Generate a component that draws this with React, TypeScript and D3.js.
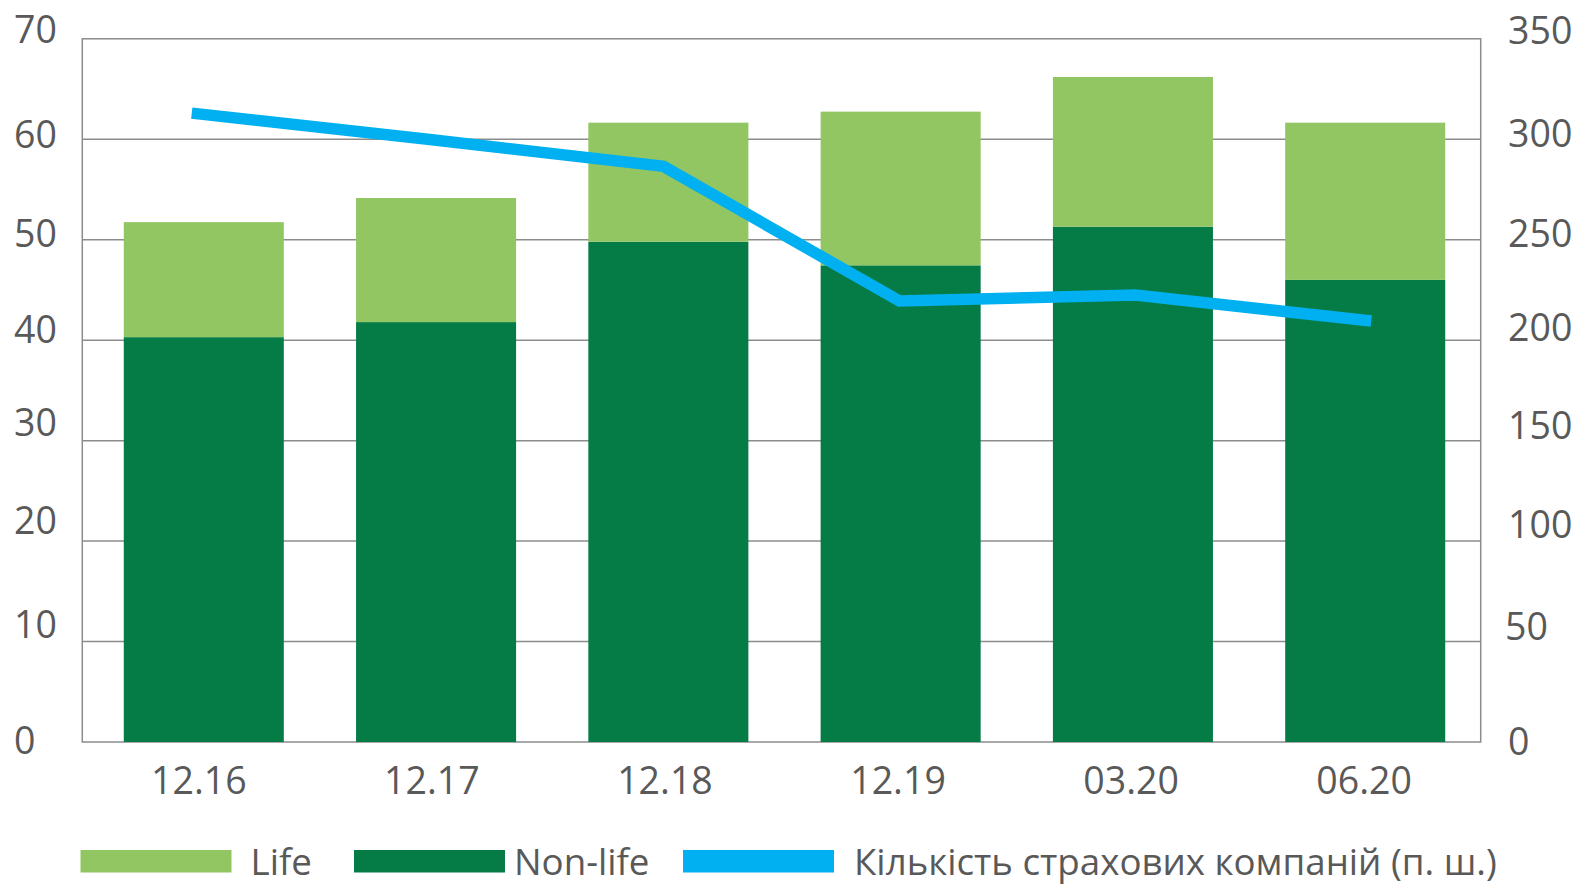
import React from "react";
import * as d3 from "d3";

const categories = ["12.16", "12.17", "12.18", "12.19", "03.20", "06.20"];
const nonLife = [40.3, 41.8, 49.8, 47.45, 51.3, 46.0];
const life = [11.45, 12.35, 11.85, 15.3, 14.9, 15.65];
const companies = [313, 300, 286.5, 219.5, 222.5, 209.5];
const leftTicks = [0, 10, 20, 30, 40, 50, 60, 70];
const rightTicks = [0, 50, 100, 150, 200, 250, 300, 350];
const legendLabels = ["Life", "Non-life", "Кількість страхових компаній (п. ш.)"];

// layout
const W = 1578;
const H = 885;
const plot = { left: 82.3, right: 1480.7, top: 38.8, bottom: 742 };
const leftLabelNudge = [-1, -17, -20, -18, -10.7, -6.4, -4.5, -9];
const rightLabelNudge = [0, -15, -16.5, -15, -12.4, -6.2, -5.5, -7.7];
const COL_LIFE = "#92C662";
const COL_NONLIFE = "#057C46";
const COL_LINE = "#00B0F0";
const COL_TEXT = "#595959";
const COL_GRID = "#8C8C8C";
const FONT = "'Open Sans', sans-serif";
const TICK_FS = 37.5;
const DIGIT_HALF = (0.714 * TICK_FS) / 2;

export default function App() {
  const x = d3
    .scaleBand<string>()
    .domain(categories)
    .range([88, 1481])
    .paddingInner(0.311)
    .paddingOuter(0.154);
  const xAxis = d3.scaleBand<string>().domain(categories).range([plot.left, plot.right]);
  const xl = d3
    .scalePoint<string>()
    .domain(categories)
    .range([plot.left, plot.right])
    .padding(0.464);
  const yL = d3.scaleLinear().domain([0, 70]).range([plot.bottom, plot.top]);
  const yR = d3.scaleLinear().domain([0, 350]).range([plot.bottom, plot.top]);

  const lineGen = d3
    .line<number>()
    .x((_, i) => xl(categories[i]) as number)
    .y((d) => yR(d));

  const legendItems = [
    { label: legendLabels[0], color: COL_LIFE, sx: 80.5, tx: 250.5 },
    { label: legendLabels[1], color: COL_NONLIFE, sx: 354, tx: 514 },
    { label: legendLabels[2], color: COL_LINE, sx: 683, tx: 854 },
  ];

  return (
    <svg
      width={W}
      height={H}
      style={{ position: "absolute", left: 0, top: 0, background: "#ffffff" }}
      fontFamily={FONT}
    >
      <rect x={0} y={0} width={W} height={H} fill="#ffffff" />
      {/* gridlines */}
      {leftTicks.slice(1, -1).map((t) => (
        <line
          key={"g" + t}
          x1={plot.left}
          x2={plot.right}
          y1={yL(t)}
          y2={yL(t)}
          stroke={COL_GRID}
          strokeWidth={1.5}
        />
      ))}
      {/* frame */}
      <rect
        x={plot.left}
        y={plot.top}
        width={plot.right - plot.left}
        height={plot.bottom - plot.top}
        fill="none"
        stroke={COL_GRID}
        strokeWidth={1.5}
      />
      {/* bars */}
      {categories.map((c, i) => (
        <g key={"b" + c}>
          <rect
            x={x(c)}
            width={x.bandwidth()}
            y={yL(nonLife[i])}
            height={yL(0) - yL(nonLife[i])}
            fill={COL_NONLIFE}
          />
          <rect
            x={x(c)}
            width={x.bandwidth()}
            y={yL(nonLife[i] + life[i])}
            height={yL(nonLife[i]) - yL(nonLife[i] + life[i])}
            fill={COL_LIFE}
          />
        </g>
      ))}
      {/* line */}
      <path
        d={lineGen(companies) || ""}
        fill="none"
        stroke={COL_LINE}
        strokeWidth={11.5}
        strokeLinejoin="miter"
        strokeLinecap="butt"
      />
      {/* left tick labels */}
      {leftTicks.map((t, i) => (
        <text
          key={"l" + t}
          x={14}
          y={yL(t) + leftLabelNudge[i] + DIGIT_HALF}
          fontSize={TICK_FS}
          fill={COL_TEXT}
        >
          {t}
        </text>
      ))}
      {/* right tick labels */}
      {rightTicks.map((t, i) => (
        <text
          key={"r" + t}
          x={t === 50 ? 1505 : 1508}
          y={yR(t) + rightLabelNudge[i] + DIGIT_HALF}
          fontSize={TICK_FS}
          fill={COL_TEXT}
        >
          {t}
        </text>
      ))}
      {/* category labels */}
      {categories.map((c) => (
        <text
          key={"c" + c}
          x={(xAxis(c) as number) + xAxis.bandwidth() / 2}
          y={793.5}
          textAnchor="middle"
          fontSize={TICK_FS}
          fill={COL_TEXT}
        >
          {c}
        </text>
      ))}
      {/* legend */}
      {legendItems.map((it) => (
        <g key={"lg" + it.label}>
          <rect x={it.sx} y={850} width={151} height={22.5} fill={it.color} />
          <text x={it.tx} y={875} fontSize={36.7} fill={COL_TEXT}>
            {it.label}
          </text>
        </g>
      ))}
    </svg>
  );
}
